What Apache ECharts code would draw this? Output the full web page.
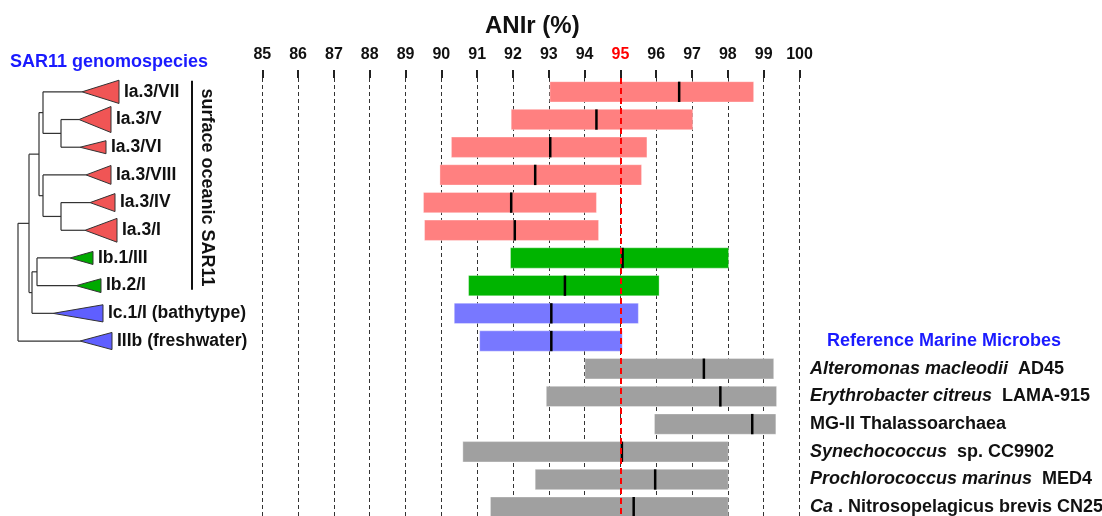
<!DOCTYPE html>
<html>
<head>
<meta charset="utf-8">
<script src="https://cdn.jsdelivr.net/npm/echarts@6/dist/echarts.min.js"></script>
<style>
html,body{margin:0;padding:0;background:#fff;}
#chart{width:1102px;height:516px;}
</style>
</head>
<body>
<div id="chart"></div>
<script>
// ---- data ----
const categories = ['Ia.3/VII','Ia.3/V','Ia.3/VI','Ia.3/VIII','Ia.3/IV','Ia.3/I','Ib.1/III','Ib.2/I','Ic.1/I (bathytype)','IIIb (freshwater)',
  'Alteromonas macleodii AD45','Erythrobacter citreus LAMA-915','MG-II Thalassoarchaea','Synechococcus sp. CC9902','Prochlorococcus marinus MED4','Ca. Nitrosopelagicus brevis CN25'];
const groups = ['Ia','Ia','Ia','Ia','Ia','Ia','Ib','Ib','Ic','IIIb','ref','ref','ref','ref','ref','ref'];
const lowValues    = [93.03, 91.95, 90.28, 89.96, 89.50, 89.53, 91.93, 90.76, 90.36, 91.07, 94.01, 92.93, 95.95, 90.60, 92.62, 91.37];
const highValues   = [98.72, 97.02, 95.74, 95.59, 94.33, 94.39, 98.02, 96.08, 95.50, 95.05, 99.28, 99.36, 99.34, 98.01, 98.01, 98.01];
const medianValues = [96.64, 94.33, 93.04, 92.62, 91.95, 92.05, 95.06, 93.45, 93.07, 93.07, 97.33, 97.79, 98.68, 95.04, 95.97, 95.37];
const xTicks = [85,86,87,88,89,90,91,92,93,94,95,96,97,98,99,100];
const threshold = 95;

// tree (dendrogram of SAR11 genomospecies, branch depth in tree units)
const cladeTip  = [82, 79, 80, 86, 90, 85, 70, 76, 53, 80];
const cladeBase = [119, 111, 106, 111, 115, 117, 93, 101, 103, 112];
const cladeHalf = [0.42, 0.47, 0.235, 0.34, 0.325, 0.43, 0.235, 0.25, 0.31, 0.31];
const treeNodes = [
  [61, 1, 2],
  [43, 0, 'n0'],
  [61, 4, 5],
  [43, 3, 'n2'],
  [39, 'n1', 'n3'],
  [37, 6, 7],
  [32, 'n5', 8],
  [29, 'n4', 'n6'],
  [18, 'n7', 9]
];
const surfaceRows = [0, 7];

// right-side labels (rich text)
const rightLabels = ['', '', '', '', '', '', '', '', '', '{h|Reference Marine Microbes}',
  '{i|Alteromonas macleodii}{n|  AD45}',
  '{i|Erythrobacter citreus}{n|  LAMA-915}',
  '{n|MG-II Thalassoarchaea}',
  '{i|Synechococcus}{n|  sp. CC9902}',
  '{i|Prochlorococcus marinus}{n|  MED4}',
  '{i|Ca}{n| . Nitrosopelagicus brevis CN25}'];

// ---- styles ----
const barColors = {Ia:'#ff8080', Ib:'#00b400', Ic:'#7878ff', IIIb:'#7878ff', ref:'#a0a0a0'};
const triColors = {Ia:'#f05555', Ib:'#00aa00', Ic:'#5f5fff', IIIb:'#5f5fff'};
const FONT = 'Liberation Sans, Arial, sans-serif';

const GRID_TOP = 78, GRID_H = 443;

const chart = echarts.init(document.getElementById('chart'), null, {renderer:'canvas'});

const barData = categories.map((c, i) => [i, lowValues[i], highValues[i], medianValues[i]]);

function renderBar(params, api) {
  const i = api.value(0);
  const lo = api.coord([api.value(1), i]);
  const hi = api.coord([api.value(2), i]);
  const md = api.coord([api.value(3), i]);
  const h = api.size([0, 1])[1] * 0.735;
  const color = barColors[groups[i]];
  return {
    type: 'group',
    children: [
      {type:'rect', shape:{x:lo[0], y:lo[1]-h/2, width:hi[0]-lo[0], height:h},
       style:{fill:color, stroke:'rgba(255,255,255,0.35)', lineWidth:1}},
      {type:'line', shape:{x1:md[0], y1:md[1]-h/2, x2:md[0], y2:md[1]+h/2},
       style:{stroke:'#000', lineWidth:2.5}}
    ]
  };
}

function renderTree(params, api) {
  const children = [];
  const px = (x, r) => api.coord([x, r]);
  const nodeY = {};
  function yOf(c) { return typeof c === 'number' ? c : nodeY[c]; }
  function xOf(c) { return typeof c === 'number' ? cladeTip[c] : treeNodes[+c.slice(1)][0]; }
  treeNodes.forEach((n, k) => {
    const ya = yOf(n[1]), yb = yOf(n[2]);
    nodeY['n' + k] = (ya + yb) / 2;
    const pTop = px(n[0], ya), pBot = px(n[0], yb);
    children.push({type:'line', shape:{x1:pTop[0], y1:pTop[1], x2:pBot[0], y2:pBot[1]},
      style:{stroke:'#333', lineWidth:1.2}});
    [n[1], n[2]].forEach(c => {
      const a = px(n[0], yOf(c)), b = px(xOf(c), yOf(c));
      children.push({type:'line', shape:{x1:a[0], y1:a[1], x2:b[0], y2:b[1]},
        style:{stroke:'#333', lineWidth:1.2}});
    });
  });
  cladeTip.forEach((t, r) => {
    const tip = px(t, r);
    const b1 = px(cladeBase[r], r - cladeHalf[r]);
    const b2 = px(cladeBase[r], r + cladeHalf[r]);
    children.push({type:'polygon', shape:{points:[tip, b1, b2]},
      style:{fill:triColors[groups[r]], stroke:'#333', lineWidth:1}});
    const lp = px(cladeBase[r] + 5, r);
    children.push({type:'text', x:lp[0], y:lp[1],
      style:{text:categories[r], fill:'#111', font:'bold 17.5px ' + FONT, textAlign:'left', textVerticalAlign:'middle'}});
  });
  // surface oceanic SAR11 bracket
  const s1 = px(192, surfaceRows[0] - 0.4), s2 = px(192, surfaceRows[1] + 0.15);
  children.push({type:'line', shape:{x1:s1[0], y1:s1[1], x2:s2[0], y2:s2[1]}, style:{stroke:'#111', lineWidth:2}});
  const mid = px(207, (surfaceRows[0] - 0.4 + surfaceRows[1] + 0.15) / 2 + 0.08);
  children.push({type:'text', x:mid[0], y:mid[1], rotation:-Math.PI/2,
    style:{text:'surface oceanic SAR11', fill:'#111', font:'bold 18px ' + FONT, textAlign:'center', textVerticalAlign:'middle'}});
  return {type:'group', children};
}

const option = {
  backgroundColor: '#fff',
  animation: false,
  title: [
    {text:'ANIr (%)', left:485, top:8, padding:0,
     textStyle:{fontFamily:FONT, fontWeight:'bold', fontSize:24, color:'#111', lineHeight:36}},
    {text:'SAR11 genomospecies', left:10, top:50, padding:0,
     textStyle:{fontFamily:FONT, fontWeight:'bold', fontSize:18, color:'#1a1aff', lineHeight:24}}
  ],
  grid: [
    {left:262.3, width:537.2, top:GRID_TOP, height:GRID_H, containLabel:false, outerBoundsMode:'none'},
    {left:0, width:262, top:GRID_TOP, height:GRID_H, containLabel:false, outerBoundsMode:'none'}
  ],
  xAxis: [
    {gridIndex:0, type:'value', position:'top', min:85, max:100, interval:1,
     axisLine:{show:false},
     axisTick:{show:true, length:8, lineStyle:{color:'#222', width:2}},
     splitLine:{show:true, lineStyle:{color:'#333', width:1, type:[4,3]}},
     axisLabel:{margin:15, fontFamily:FONT, fontWeight:'bold', fontSize:16, color:'#111',
       formatter: v => (xTicks.includes(v) ? (v === threshold ? '{r|' + v + '}' : '' + v) : ''),
       rich:{r:{color:'#ff0000', fontFamily:FONT, fontWeight:'bold', fontSize:16}}}},
    {gridIndex:1, type:'value', min:0, max:262, show:false}
  ],
  yAxis: [
    {gridIndex:0, type:'category', data:categories, inverse:true, position:'left',
     axisLine:{show:false}, axisTick:{show:false}, splitLine:{show:false}, axisLabel:{show:false}},
    {gridIndex:0, type:'category', data:rightLabels, inverse:true, position:'right',
     axisLine:{show:false}, axisTick:{show:false}, splitLine:{show:false},
     axisLabel:{show:true, margin:10.5, align:'left', interval:0, formatter: v => v,
       rich:{
         h:{fontFamily:FONT, fontWeight:'bold', fontSize:18, color:'#1a1aff', padding:[0,0,0,17]},
         i:{fontFamily:FONT, fontWeight:'bold', fontStyle:'italic', fontSize:18, color:'#111'},
         n:{fontFamily:FONT, fontWeight:'bold', fontSize:18, color:'#111'}
       }}},
    {gridIndex:1, type:'value', min:-0.5, max:15.5, inverse:true, show:false}
  ],
  series: [
    {type:'custom', xAxisIndex:0, yAxisIndex:0, data:barData, renderItem:renderBar, z:2,
     markLine:{silent:true, symbol:'none', label:{show:false}, z:5,
       lineStyle:{color:'#ff0000', width:2, type:[6,4]},
       data:[{xAxis:threshold}]}},
    {type:'custom', xAxisIndex:1, yAxisIndex:2, data:[[0,0]], renderItem:renderTree, clip:false, z:3}
  ]
};
chart.setOption(option);
</script>
</body>
</html>
